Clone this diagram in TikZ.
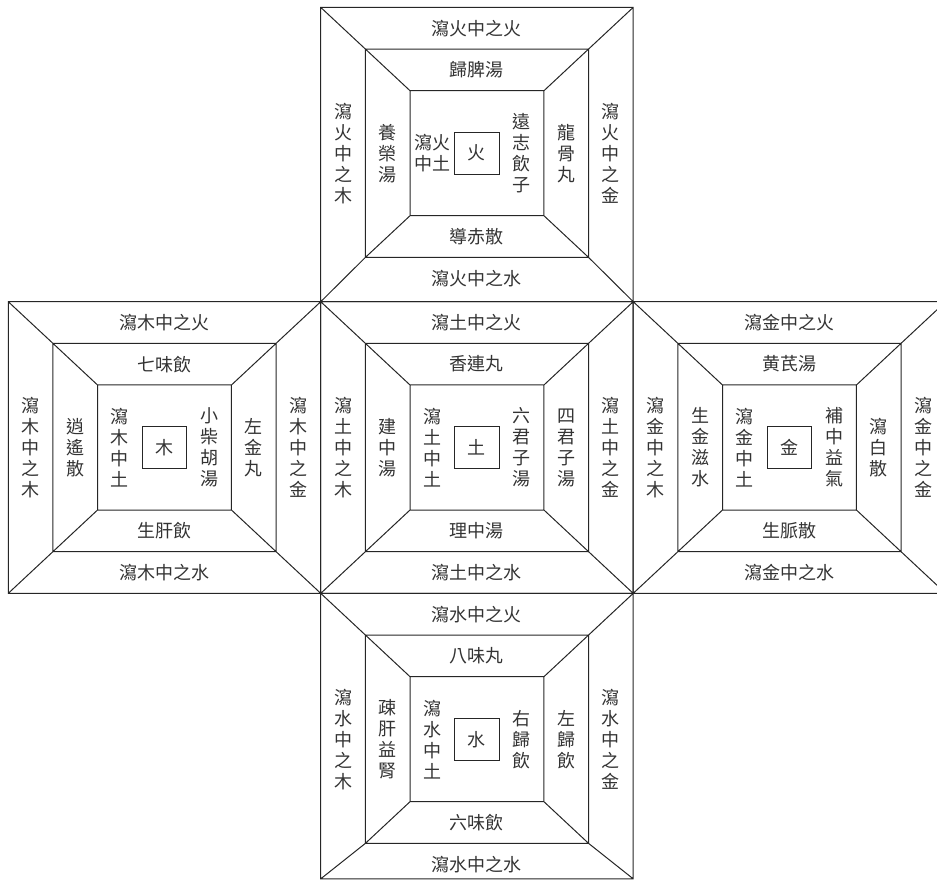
\documentclass[tikz,border=0pt]{standalone}
\usepackage{fontspec}
\newfontfamily\cjk{Noto Sans CJK TC}

\begin{document}
\begin{tikzpicture}[x=22.32pt, y=-20.835pt,
  wline/.style={draw=black!85, line width=0.5pt},
  lbl/.style={font=\cjk\fontsize{9}{10.5}\selectfont, text=black!80, inner sep=0pt, align=center},
  corebox/.style={lbl, wline, minimum width=22.32pt, minimum height=20.835pt}]
\useasboundingbox (0,0) rectangle (20.99,21.142);
\clip (0,0) rectangle (20.99,21.142);

% Frames: outer, middle and inner squares with corner lines
\foreach \cx/\cy/\ot/\ob in {10.685/3.677/0.177/7.24, 3.685/10.739/7.24/14.239,
  10.685/10.739/7.24/14.239, 17.685/10.739/7.24/14.239, 10.685/17.739/14.239/21.09}
{
  \draw[wline] (\cx-3.5,\ot) rectangle (\cx+3.5,\ob)
    (\cx-2.5,\cy-2.5) rectangle (\cx+2.5,\cy+2.5)
    (\cx-1.5,\cy-1.5) rectangle (\cx+1.5,\cy+1.5)
    (\cx-3.5,\ot) -- (\cx-2.5,\cy-2.5) -- (\cx-1.5,\cy-1.5)
    (\cx+3.5,\ot) -- (\cx+2.5,\cy-2.5) -- (\cx+1.5,\cy-1.5)
    (\cx-3.5,\ob) -- (\cx-2.5,\cy+2.5) -- (\cx-1.5,\cy+1.5)
    (\cx+3.5,\ob) -- (\cx+2.5,\cy+2.5) -- (\cx+1.5,\cy+1.5);
}

% Fire
\begin{scope}[shift={(10.685,3.677)}]
  \node[corebox] (huoCore) at (0,0) {火};
  \node[lbl] (huoOutN) at (0,-3) {瀉火中之火};
  \node[lbl] (huoOutS) at (0,3) {瀉火中之水};
  \node[lbl] (huoOutW) at (-3,0) {瀉\\火\\中\\之\\木};
  \node[lbl] (huoOutE) at (3,0) {瀉\\火\\中\\之\\金};
  \node[lbl] (huoMidN) at (0,-2) {歸脾湯};
  \node[lbl] (huoMidS) at (0,2) {導赤散};
  \node[lbl] (huoMidW) at (-2,0) {養\\榮\\湯};
  \node[lbl] (huoMidE) at (2,0) {龍\\骨\\丸};
  \node[lbl] (huoInW) at (-1,0) {瀉火\\中土};
  \node[lbl] (huoInE) at (1,0) {遠\\志\\飲\\子};
\end{scope}

% Wood
\begin{scope}[shift={(3.685,10.739)}]
  \node[corebox] (muCore) at (0,0) {木};
  \node[lbl] (muOutN) at (0,-3) {瀉木中之火};
  \node[lbl] (muOutS) at (0,3) {瀉木中之水};
  \node[lbl] (muOutW) at (-3,0) {瀉\\木\\中\\之\\木};
  \node[lbl] (muOutE) at (3,0) {瀉\\木\\中\\之\\金};
  \node[lbl] (muMidN) at (0,-2) {七味飲};
  \node[lbl] (muMidS) at (0,2) {生肝飲};
  \node[lbl] (muMidW) at (-2,0) {逍\\遙\\散};
  \node[lbl] (muMidE) at (2,0) {左\\金\\丸};
  \node[lbl] (muInW) at (-1,0) {瀉\\木\\中\\土};
  \node[lbl] (muInE) at (1,0) {小\\柴\\胡\\湯};
\end{scope}

% Earth
\begin{scope}[shift={(10.685,10.739)}]
  \node[corebox] (tuCore) at (0,0) {土};
  \node[lbl] (tuOutN) at (0,-3) {瀉土中之火};
  \node[lbl] (tuOutS) at (0,3) {瀉土中之水};
  \node[lbl] (tuOutW) at (-3,0) {瀉\\土\\中\\之\\木};
  \node[lbl] (tuOutE) at (3,0) {瀉\\土\\中\\之\\金};
  \node[lbl] (tuMidN) at (0,-2) {香連丸};
  \node[lbl] (tuMidS) at (0,2) {理中湯};
  \node[lbl] (tuMidW) at (-2,0) {建\\中\\湯};
  \node[lbl] (tuMidE) at (2,0) {四\\君\\子\\湯};
  \node[lbl] (tuInW) at (-1,0) {瀉\\土\\中\\土};
  \node[lbl] (tuInE) at (1,0) {六\\君\\子\\湯};
\end{scope}

% Metal
\begin{scope}[shift={(17.685,10.739)}]
  \node[corebox] (jinCore) at (0,0) {金};
  \node[lbl] (jinOutN) at (0,-3) {瀉金中之火};
  \node[lbl] (jinOutS) at (0,3) {瀉金中之水};
  \node[lbl] (jinOutW) at (-3,0) {瀉\\金\\中\\之\\木};
  \node[lbl] (jinOutE) at (3,0) {瀉\\金\\中\\之\\金};
  \node[lbl] (jinMidN) at (0,-2) {黄芪湯};
  \node[lbl] (jinMidS) at (0,2) {生脈散};
  \node[lbl] (jinMidW) at (-2,0) {生\\金\\滋\\水};
  \node[lbl] (jinMidE) at (2,0) {瀉\\白\\散};
  \node[lbl] (jinInW) at (-1,0) {瀉\\金\\中\\土};
  \node[lbl] (jinInE) at (1,0) {補\\中\\益\\氣};
\end{scope}

% Water
\begin{scope}[shift={(10.685,17.739)}]
  \node[corebox] (shuiCore) at (0,0) {水};
  \node[lbl] (shuiOutN) at (0,-3) {瀉水中之火};
  \node[lbl] (shuiOutS) at (0,3) {瀉水中之水};
  \node[lbl] (shuiOutW) at (-3,0) {瀉\\水\\中\\之\\木};
  \node[lbl] (shuiOutE) at (3,0) {瀉\\水\\中\\之\\金};
  \node[lbl] (shuiMidN) at (0,-2) {八味丸};
  \node[lbl] (shuiMidS) at (0,2) {六味飲};
  \node[lbl] (shuiMidW) at (-2,0) {疎\\肝\\益\\腎};
  \node[lbl] (shuiMidE) at (2,0) {左\\歸\\飲};
  \node[lbl] (shuiInW) at (-1,0) {瀉\\水\\中\\土};
  \node[lbl] (shuiInE) at (1,0) {右\\歸\\飲};
\end{scope}
\end{tikzpicture}
\end{document}
